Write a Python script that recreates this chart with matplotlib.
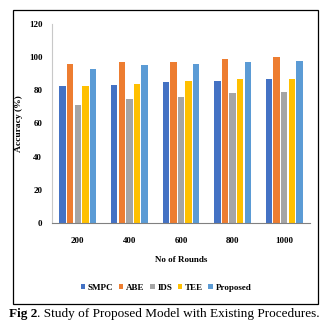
import numpy as np
import matplotlib.pyplot as plt
from matplotlib.patches import Rectangle

# datos
rounds = ["200", "400", "600", "800", "1000"]
methods = ["SMPC", "ABE", "IDS", "TEE", "Proposed"]
smpc = [82.6, 83.4, 85.0, 85.8, 87.0]
abe = [95.9, 97.1, 97.3, 99.1, 100.0]
ids = [71.3, 74.6, 75.8, 78.2, 79.0]
tee = [82.6, 83.8, 85.6, 86.8, 87.0]
proposed = [92.7, 95.1, 96.1, 97.3, 97.9]
colors = ["#4472C4", "#ED7D31", "#A5A5A5", "#FFC000", "#5B9BD5"]

W, H = 331, 329
fig = plt.figure(figsize=(W / 100, H / 100), dpi=100)
plt.rcParams['font.family'] = ['Liberation Serif', 'DejaVu Serif']

# ejes en pixeles: x 52..310, y 24..223
ax = fig.add_axes([52 / W, 1 - 223 / H, (310 - 52) / W, (223 - 24) / H])

x = np.arange(len(rounds))
pitch = 0.147
width = 0.122
series = [smpc, abe, ids, tee, proposed]
for i, (vals, name) in enumerate(zip(series, methods)):
    ax.bar(x + (i - 2) * pitch, vals, width, color=colors[i], label=name)

ax.set_xlim(-0.5, 4.5)
ax.set_ylim(0, 120)
ax.set_yticks(range(0, 121, 20))
ax.set_xticks(x)
ax.set_xticklabels(rounds)
ax.tick_params(length=0, labelsize=6.5, pad=10)
ax.tick_params(axis='y', pad=7)
for lab in ax.get_xticklabels() + ax.get_yticklabels():
    lab.set_fontweight('bold')

ax.spines['top'].set_visible(False)
ax.spines['right'].set_visible(False)
ax.spines['left'].set_color('#C8C8C8')
ax.spines['left'].set_linewidth(0.8)
ax.spines['bottom'].set_color('#808080')
ax.spines['bottom'].set_linewidth(0.8)

ax.set_xlabel("No of Rounds", fontsize=6.5, fontweight='bold', labelpad=8)
ax.set_ylabel("Accuracy (%)", fontsize=6.8, fontweight='bold', labelpad=4)

fig.legend(loc='center', bbox_to_anchor=(166 / W, 1 - 288 / H), ncol=5,
           frameon=False, prop={'weight': 'bold', 'size': 6.5},
           handlelength=0.5, handleheight=0.5, handletextpad=0.3,
           columnspacing=0.6)

# marco alrededor de la figura
fig.patches.append(Rectangle((13 / W, 1 - 304 / H), (318 - 13) / W, (304 - 10) / H,
                             transform=fig.transFigure, fill=False,
                             edgecolor='black', linewidth=0.9))

# pie de figura: "Fig 2" en negrita seguido del resto
t1 = fig.text(9 / W, 1 - 314 / H, "Fig 2", fontsize=9.5, fontweight='bold', va='center')
fig.canvas.draw()
bb = t1.get_window_extent()
fig.text(bb.x1 / W, 1 - 314 / H, ". Study of Proposed Model with Existing Procedures.",
         fontsize=9.5, va='center')

fig.savefig("out.png", dpi=100)
